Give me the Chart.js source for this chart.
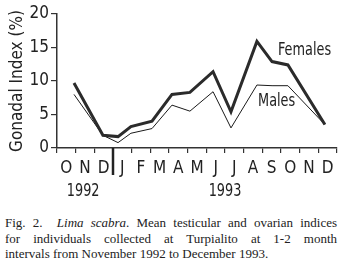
<!DOCTYPE html>
<html>
<head>
<meta charset="utf-8">
<script src="https://cdn.jsdelivr.net/npm/chart.js@4/dist/chart.umd.min.js"></script>
<style>
    body { margin: 0; background: #fff; }
    #wrap { position: relative; width: 352px; height: 271px; }
    #chartGonadal { position: absolute; left: 0; top: 0; }
    #caption {
        position: absolute; left: 5px; top: 215px; width: 332px;
        font-family: 'Liberation Serif', 'Times New Roman', serif;
        font-size: 13px; line-height: 15.5px; color: #222;
    }
    #caption span { display: block; text-align: justify; text-align-last: justify; }
    #caption span.last { text-align-last: left; }
</style>
</head>
<body>
<div id="wrap">
    <canvas id="chartGonadal" width="352" height="205"></canvas>
    <div id="caption">
        <span>Fig. 2.&nbsp; <i>Lima scabra</i>. Mean testicular and ovarian indices</span>
        <span>for individuals collected at Turpialito at 1-2 month</span>
        <span class="last">intervals from November 1992 to December 1993.</span>
    </div>
</div>
<script>
// month ticks, Oct 1992 .. Dec 1993
var monthLabels = ['O', 'N', 'D', 'J', 'F', 'M', 'A', 'M', 'J', 'J', 'A', 'S', 'O', 'N', 'D'];
var yearLabels = ['1992', '1993'];
var yearPos = [1.4, 9.0];
var yearBreak = 3;

// sampling dates, in months counted from 1 Oct 1992
var sampleMonths = [0.91, 2.46, 3.27, 3.96, 5.09, 6.16, 7.12, 8.36, 9.32, 10.71, 11.52, 12.37, 14.35];
var females = [9.7, 1.9, 1.7, 3.2, 4.0, 8.0, 8.3, 11.4, 5.4, 15.9, 12.9, 12.4, 3.5];
var males = [8.0, 1.9, 0.8, 2.2, 2.9, 6.4, 5.5, 8.4, 3.0, 9.4, 9.3, 9.3, 3.5];

var narrow = "'Liberation Sans Narrow', 'DejaVu Sans Condensed', 'Arial Narrow', sans-serif";
var ink = '#222';

function toPoints(vals) {
    var pts = [];
    for (var i = 0; i < vals.length; i++) {
        pts.push({ x: sampleMonths[i], y: vals[i] });
    }
    return pts;
}

// squeezed text, the original uses a narrow face
function narrowText(ctx, txt, x, y, squeeze) {
    ctx.save();
    ctx.translate(x, y);
    ctx.scale(squeeze, 1);
    ctx.fillText(txt, 0, 0);
    ctx.restore();
}

// year labels, year divider and the in-plot series names
var extrasPlugin = {
    id: 'extras',
    afterDraw: function (chart) {
        var ctx = chart.ctx;
        var xs = chart.scales.xd, ys = chart.scales.y;
        ctx.save();
        ctx.strokeStyle = ink;
        ctx.lineWidth = 2.5;
        var bx = xs.getPixelForValue(yearBreak);
        ctx.beginPath();
        ctx.moveTo(bx, ys.bottom);
        ctx.lineTo(bx, ys.bottom + 27);
        ctx.stroke();

        ctx.fillStyle = ink;
        ctx.font = '17px ' + narrow;
        ctx.textAlign = 'center';
        ctx.textBaseline = 'middle';
        for (var i = 0; i < yearLabels.length; i++) {
            narrowText(ctx, yearLabels[i], xs.getPixelForValue(yearPos[i]), ys.bottom + 44, 0.84);
        }

        ctx.textAlign = 'left';
        narrowText(ctx, 'Females', xs.getPixelForValue(11.84), ys.getPixelForValue(14.6), 0.84);
        narrowText(ctx, 'Males', xs.getPixelForValue(10.77), ys.getPixelForValue(7.0), 0.84);
        ctx.restore();
    }
};

var ctx = document.getElementById('chartGonadal');
var gonadalChart = new Chart(ctx, {
    type: 'line',
    data: {
        labels: monthLabels,
        datasets: [{
            label: 'Females',
            data: toPoints(females),
            xAxisID: 'xd',
            borderColor: '#2b2b2b',
            borderWidth: 3,
            pointRadius: 0,
            tension: 0
        }, {
            label: 'Males',
            data: toPoints(males),
            xAxisID: 'xd',
            borderColor: '#1a1a1a',
            borderWidth: 1,
            pointRadius: 0,
            tension: 0
        }]
    },
    options: {
        responsive: false,
        animation: false,
        layout: { padding: { top: 14, right: 15, left: 0, bottom: 0 } },
        plugins: {
            legend: { display: false },
            tooltip: { enabled: false }
        },
        scales: {
            x: {
                type: 'category',
                offset: true,
                grid: { offset: true, drawOnChartArea: false, tickLength: 5, color: '#333', lineWidth: 1.2 },
                border: { color: '#333', width: 1.5 },
                ticks: { color: ink, font: { family: narrow, size: 17 }, padding: 5, maxRotation: 0, autoSkip: false },
                afterFit: function (scale) { scale.height = 57; }
            },
            xd: {
                type: 'linear',
                display: false,
                min: 0,
                max: 15
            },
            y: {
                min: 0,
                max: 20,
                grid: { drawOnChartArea: false, tickLength: 6, color: '#333', lineWidth: 1.2 },
                border: { color: '#333', width: 1.5 },
                ticks: { stepSize: 5, color: ink, font: { family: narrow, size: 17 }, padding: 2 },
                title: {
                    display: true,
                    text: 'Gonadal Index (%)',
                    color: ink,
                    font: { family: narrow, size: 17 },
                    padding: { top: 7, bottom: 0 }
                },
                afterFit: function (scale) { scale.width = 57; }
            }
        }
    },
    plugins: [extrasPlugin]
});
</script>
</body>
</html>
